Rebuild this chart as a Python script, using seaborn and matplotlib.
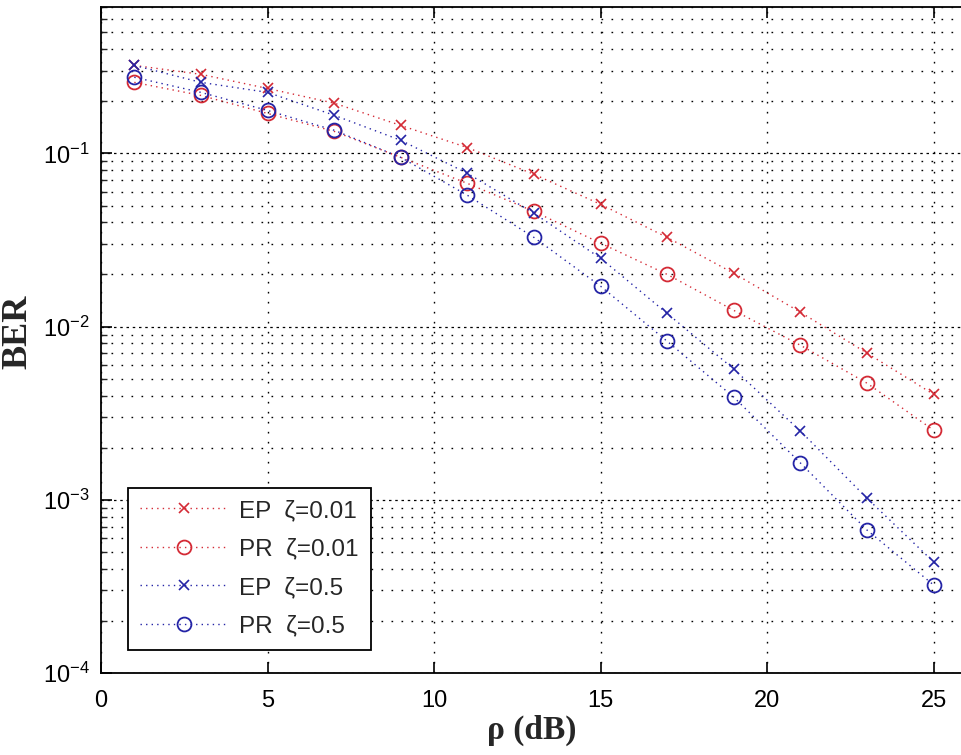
import numpy as np
import pandas as pd
import matplotlib
matplotlib.use('Agg')
import matplotlib.pyplot as plt
import seaborn as sns
from matplotlib.ticker import LogLocator, NullFormatter, LogFormatterSciNotation

# valori
rho = [1, 3, 5, 7, 9, 11, 13, 15, 17, 19, 21, 23, 25]
ep_001 = [0.322, 0.286, 0.237, 0.195, 0.145, 0.108, 0.0757, 0.0508, 0.0327, 0.0203, 0.0121, 0.00702, 0.00406]
pr_001 = [0.257, 0.216, 0.170, 0.134, 0.0948, 0.0671, 0.0462, 0.0303, 0.0200, 0.0124, 0.0078, 0.00471, 0.00252]
ep_05 = [0.322, 0.257, 0.225, 0.166, 0.119, 0.0767, 0.0451, 0.0248, 0.0119, 0.00568, 0.00249, 0.00102, 0.000437]
pr_05 = [0.275, 0.225, 0.177, 0.136, 0.0948, 0.0573, 0.0327, 0.0171, 0.00822, 0.00391, 0.00163, 0.000668, 0.000322]
labels = ['EP  ζ=0.01', 'PR  ζ=0.01', 'EP  ζ=0.5', 'PR  ζ=0.5']

red = '#d42a35'
blue = '#2424a6'
stili = [(red, 'x'), (red, 'o'), (blue, 'x'), (blue, 'o')]

df = pd.DataFrame({
    'rho': rho * 4,
    'ber': ep_001 + pr_001 + ep_05 + pr_05,
    'serie': [l for l in labels for _ in rho],
})

sns.set_style('white')
plt.rcParams['font.family'] = ['Liberation Sans', 'DejaVu Sans']
plt.rcParams['mathtext.default'] = 'regular'

fig = plt.figure(figsize=(9.62, 7.55), dpi=100)
ax = fig.add_axes([101 / 962, 82 / 755, 861 / 962, 666 / 755])

for lab, (col, mk) in zip(labels, stili):
    d = df[df['serie'] == lab]
    if mk == 'o':
        sns.lineplot(data=d, x='rho', y='ber', ax=ax, label=lab, color=col,
                     linestyle=(0, (1, 3)), linewidth=1.0, marker='o', markersize=10,
                     markerfacecolor='none', markeredgecolor=col, markeredgewidth=1.3)
    else:
        sns.lineplot(data=d, x='rho', y='ber', ax=ax, label=lab, color=col,
                     linestyle=(0, (1, 3)), linewidth=1.0, marker='x', markersize=7,
                     markeredgecolor=col, markeredgewidth=1.2)

ax.set_yscale('log')
ax.set_xlim(0, 25.85)
ax.set_ylim(1e-4, 0.7)
ax.set_xticks([0, 5, 10, 15, 20, 25])
ax.yaxis.set_major_locator(LogLocator(base=10, numticks=10))
ax.yaxis.set_minor_locator(LogLocator(base=10, subs=np.arange(2, 10), numticks=20))
ax.yaxis.set_major_formatter(LogFormatterSciNotation())
ax.yaxis.set_minor_formatter(NullFormatter())

# griglia in stile MATLAB
ax.grid(True, which='major', axis='x', color='black', linestyle=(0, (1.2, 6)), linewidth=1.0)
ax.grid(True, which='major', axis='y', color='black', linestyle=(0, (2, 3)), linewidth=0.9)
ax.grid(True, which='minor', axis='y', color='black', linestyle=(0, (1.2, 6)), linewidth=1.0)

for s in ['left', 'bottom', 'top']:
    ax.spines[s].set_color('black')
    ax.spines[s].set_linewidth(1.3)
ax.spines['right'].set_visible(False)

ax.tick_params(axis='both', which='major', direction='in', length=8, width=1.2,
               labelsize=17, colors='black', top=True, left=True, bottom=True)
ax.tick_params(axis='y', which='minor', direction='in', length=4, width=1.0, left=True)
ax.tick_params(axis='x', pad=12)
ax.tick_params(axis='y', pad=8)

ax.set_xlabel('ρ (dB)', fontsize=24, fontweight='bold', family='Liberation Serif', labelpad=2)
ax.set_ylabel('BER', fontsize=26, fontweight='bold', family='Liberation Serif')
ax.yaxis.set_label_coords(-0.077, 0.512)

leg = ax.legend(loc='lower left', bbox_to_anchor=(0.031, 0.035), borderaxespad=0,
                fontsize=17.5, frameon=True, fancybox=False, handlelength=3.6,
                labelspacing=0.68, handletextpad=0.5, borderpad=0.5)
leg.get_frame().set_edgecolor('black')
leg.get_frame().set_linewidth(1.3)
leg.get_frame().set_alpha(1)

fig.savefig('out.png', dpi=100)
